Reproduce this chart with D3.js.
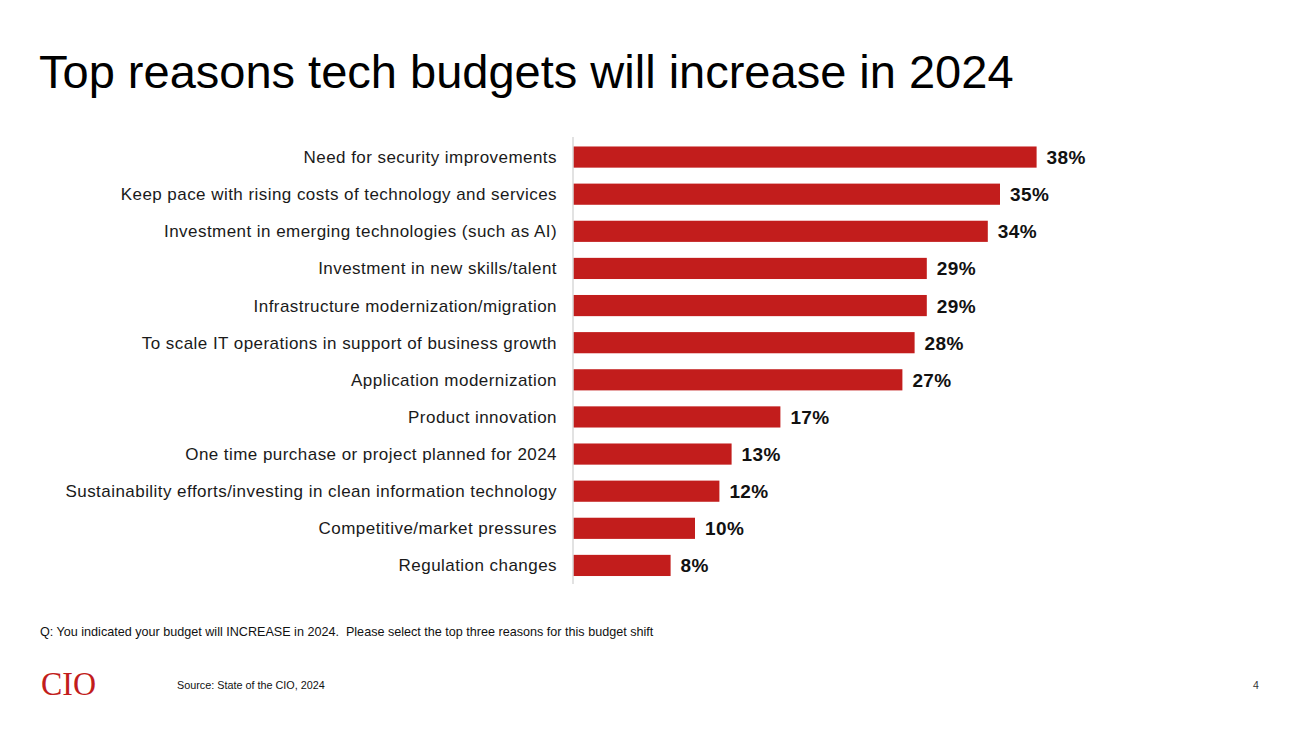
<!DOCTYPE html>
<html><head><meta charset="utf-8">
<script src="https://cdn.jsdelivr.net/npm/d3@7"></script>
<style>
html,body{margin:0;padding:0;background:#fff;}
svg{display:block;font-family:"Liberation Sans",Arial,sans-serif;}
</style></head>
<body>
<svg id="c" width="1300" height="730"></svg>
<script>
const categories = [
  "Need for security improvements",
  "Keep pace with rising costs of technology and services",
  "Investment in emerging technologies (such as AI)",
  "Investment in new skills/talent",
  "Infrastructure modernization/migration",
  "To scale IT operations in support of business growth",
  "Application modernization",
  "Product innovation",
  "One time purchase or project planned for 2024",
  "Sustainability efforts/investing in clean information technology",
  "Competitive/market pressures",
  "Regulation changes"
];
const values = [38, 35, 34, 29, 29, 28, 27, 17, 13, 12, 10, 8];

const svg = d3.select("#c");
const x0 = 573, x1 = 573 + 12.2 * 38;
const x = d3.scaleLinear().domain([0, 38]).range([x0, x1]);
const y = d3.scaleBand().domain(categories).range([138.5, 584]).paddingInner(0.43).paddingOuter(0.215);

svg.append("text").attr("x", 39).attr("y", 88)
  .attr("font-size", 47).attr("fill", "#000")
  .text("Top reasons tech budgets will increase in 2024");

svg.append("g").selectAll("rect").data(values).join("rect")
  .attr("x", x0).attr("y", (d, i) => y(categories[i]))
  .attr("width", d => x(d) - x0).attr("height", y.bandwidth())
  .attr("fill", "#C21D1C");

svg.append("line").attr("x1", x0).attr("x2", x0).attr("y1", 137).attr("y2", 584)
  .attr("stroke", "#d9d9d9").attr("stroke-width", 1.5);

svg.append("g").selectAll("text").data(categories).join("text")
  .attr("x", 557).attr("y", d => y(d) + y.bandwidth() / 2)
  .attr("dy", "0.35em").attr("text-anchor", "end")
  .attr("font-size", 17).attr("letter-spacing", 0.45).attr("fill", "#1a1a1a")
  .text(d => d);

svg.append("g").selectAll("text").data(values).join("text")
  .attr("x", d => x(d) + 10).attr("y", (d, i) => y(categories[i]) + y.bandwidth() / 2)
  .attr("dy", "0.37em").attr("font-size", 19).attr("letter-spacing", 0.4)
  .attr("font-weight", "bold").attr("fill", "#111")
  .text(d => d + "%");

svg.append("text").attr("x", 40).attr("y", 636).attr("font-size", 12.6).attr("fill", "#111")
  .style("white-space", "pre")
  .text("Q: You indicated your budget will INCREASE in 2024.  Please select the top three reasons for this budget shift");

svg.append("text").attr("x", 41).attr("y", 695).attr("font-size", 33)
  .attr("font-family", "'Liberation Serif','Times New Roman',serif").attr("fill", "#C21D1C")
  .attr("textLength", 55).attr("lengthAdjust", "spacingAndGlyphs")
  .text("CIO");

svg.append("text").attr("x", 177).attr("y", 689).attr("font-size", 10.8).attr("fill", "#111")
  .text("Source: State of the CIO, 2024");

svg.append("text").attr("x", 1256).attr("y", 689).attr("font-size", 10.5).attr("fill", "#333")
  .attr("text-anchor", "middle").text("4");
</script>
</body></html>
